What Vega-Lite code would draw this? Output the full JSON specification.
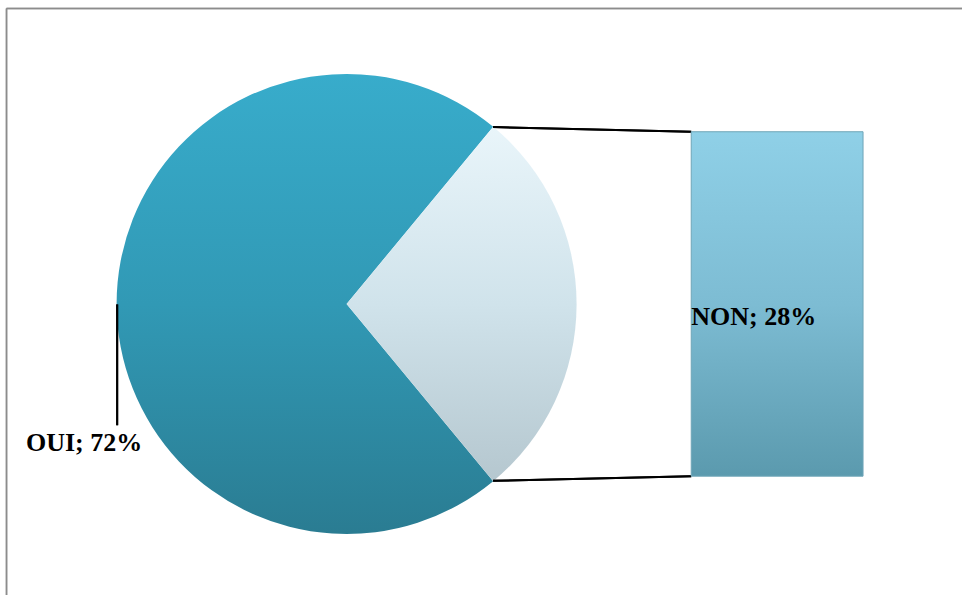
{
  "$schema": "https://vega.github.io/schema/vega-lite/v6.json",
  "width": 963,
  "height": 596,
  "autosize": {"type": "fit", "contains": "padding"},
  "padding": 0,
  "background": "white",
  "config": {"view": {"stroke": null}},
  "data": {"values": [
    {"cat": "OUI", "value": 72},
    {"cat": "NON", "value": 28}
  ]},
  "layer": [
    {
      "mark": {"type": "rule", "stroke": "#8c8c8c", "strokeWidth": 1.5},
      "encoding": {
        "x": {"datum": 0.53, "type": "quantitative", "scale": {"domain": [0, 78.16], "nice": false, "zero": false}, "axis": null},
        "x2": {"datum": 78.16},
        "y": {"datum": 38.02, "type": "quantitative", "scale": {"domain": [-9.66, 38.71], "nice": false, "zero": false}, "axis": null}
      }
    },
    {
      "mark": {"type": "rule", "stroke": "#8c8c8c", "strokeWidth": 1.5},
      "encoding": {
        "x": {"datum": 0.53, "type": "quantitative", "scale": {"domain": [0, 78.16], "nice": false, "zero": false}, "axis": null},
        "y": {"datum": 38.02, "type": "quantitative", "scale": {"domain": [-9.66, 38.71], "nice": false, "zero": false}, "axis": null},
        "y2": {"datum": -9.66}
      }
    },
    {
      "mark": {"type": "arc", "outerRadius": 230, "stroke": null},
      "encoding": {
        "theta": {"field": "value", "type": "quantitative", "stack": true, "scale": {"range": [0.6912, 6.9744]}},
        "order": {"field": "value", "type": "quantitative", "sort": "ascending"},
        "x": {"datum": 28.16, "type": "quantitative", "scale": {"domain": [0, 78.16], "nice": false, "zero": false}, "axis": null},
        "y": {"datum": 14, "type": "quantitative", "scale": {"domain": [-9.66, 38.71], "nice": false, "zero": false}, "axis": null},
        "fill": {
          "condition": {
            "test": "datum.cat === 'OUI'",
            "value": {"gradient": "linear", "x1": 0, "y1": 0, "x2": 0, "y2": 1, "stops": [
              {"offset": 0, "color": "#38AccB"},
              {"offset": 0.5, "color": "#3199B5"},
              {"offset": 1, "color": "#2A7C92"}
            ]}
          },
          "value": {"gradient": "linear", "x1": 0, "y1": 0, "x2": 0, "y2": 1, "stops": [
            {"offset": 0, "color": "#E9F5FA"},
            {"offset": 0.5, "color": "#D0E3EB"},
            {"offset": 1, "color": "#B5C7CF"}
          ]}
        }
      }
    },
    {
      "mark": {"type": "rule", "stroke": "#000000", "strokeWidth": 2},
      "encoding": {
        "x": {"datum": 40.06, "type": "quantitative", "scale": {"domain": [0, 78.16], "nice": false, "zero": false}, "axis": null},
        "x2": {"datum": 56.16},
        "y": {"datum": 28.38, "type": "quantitative", "scale": {"domain": [-9.66, 38.71], "nice": false, "zero": false}, "axis": null},
        "y2": {"datum": 28}
      }
    },
    {
      "mark": {"type": "rule", "stroke": "#000000", "strokeWidth": 2},
      "encoding": {
        "x": {"datum": 40.06, "type": "quantitative", "scale": {"domain": [0, 78.16], "nice": false, "zero": false}, "axis": null},
        "x2": {"datum": 56.16},
        "y": {"datum": -0.38, "type": "quantitative", "scale": {"domain": [-9.66, 38.71], "nice": false, "zero": false}, "axis": null},
        "y2": {"datum": 0}
      }
    },
    {
      "transform": [{"filter": "datum.cat === 'NON'"}],
      "mark": {"type": "rect", "stroke": "#6FA6B8", "strokeWidth": 1,
        "fill": {"gradient": "linear", "x1": 0, "y1": 0, "x2": 0, "y2": 1, "stops": [
          {"offset": 0, "color": "#8FD0E7"},
          {"offset": 0.5, "color": "#7DBCD3"},
          {"offset": 1, "color": "#5B9AAE"}
        ]}},
      "encoding": {
        "x": {"datum": 56.16, "type": "quantitative", "scale": {"domain": [0, 78.16], "nice": false, "zero": false}, "axis": null},
        "x2": {"datum": 70.12},
        "y": {"field": "value", "type": "quantitative", "scale": {"domain": [-9.66, 38.71], "nice": false, "zero": false}, "axis": null},
        "y2": {"datum": 0}
      }
    },
    {
      "transform": [{"filter": "datum.cat === 'NON'"}, {"calculate": "datum.cat + '; ' + datum.value + '%'", "as": "label"}],
      "mark": {"type": "text", "font": "Liberation Serif", "fontWeight": "bold", "fontSize": 26, "align": "left", "baseline": "alphabetic", "color": "#000000"},
      "encoding": {
        "x": {"datum": 56.16, "type": "quantitative", "scale": {"domain": [0, 78.16], "nice": false, "zero": false}, "axis": null},
        "y": {"datum": 12.25, "type": "quantitative", "scale": {"domain": [-9.66, 38.71], "nice": false, "zero": false}, "axis": null},
        "text": {"field": "label"}
      }
    },
    {
      "mark": {"type": "rule", "stroke": "#000000", "strokeWidth": 2},
      "encoding": {
        "x": {"datum": 9.52, "type": "quantitative", "scale": {"domain": [0, 78.16], "nice": false, "zero": false}, "axis": null},
        "y": {"datum": 13.96, "type": "quantitative", "scale": {"domain": [-9.66, 38.71], "nice": false, "zero": false}, "axis": null},
        "y2": {"datum": 4.14}
      }
    },
    {
      "transform": [{"filter": "datum.cat === 'OUI'"}, {"calculate": "datum.cat + '; ' + datum.value + '%'", "as": "label"}],
      "mark": {"type": "text", "font": "Liberation Serif", "fontWeight": "bold", "fontSize": 26, "align": "left", "baseline": "alphabetic", "color": "#000000"},
      "encoding": {
        "x": {"datum": 2.11, "type": "quantitative", "scale": {"domain": [0, 78.16], "nice": false, "zero": false}, "axis": null},
        "y": {"datum": 2.03, "type": "quantitative", "scale": {"domain": [-9.66, 38.71], "nice": false, "zero": false}, "axis": null},
        "text": {"field": "label"}
      }
    }
  ]
}
